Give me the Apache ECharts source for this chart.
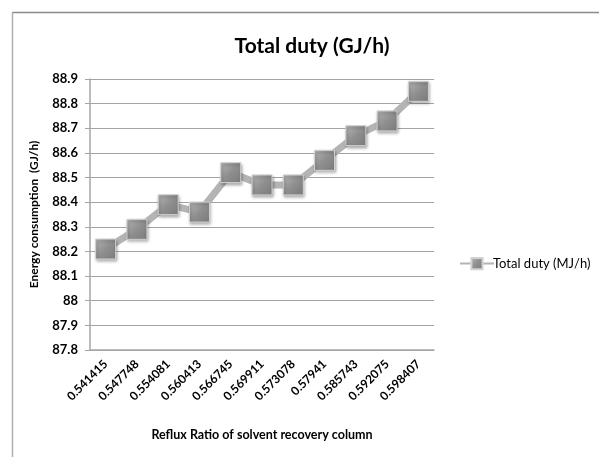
<!DOCTYPE html>
<html>
<head>
<meta charset="utf-8">
<script src="https://cdn.jsdelivr.net/npm/echarts@6/dist/echarts.min.js"></script>
<style>
  html, body { margin: 0; padding: 0; background: #fff; }
  #chart { width: 599px; height: 457px; }
</style>
</head>
<body>
<div id="chart"></div>
<script>
// Reflux ratio of the solvent recovery column (category labels)
const refluxRatios = ['0.541415', '0.547748', '0.554081', '0.560413', '0.566745',
  '0.569911', '0.573078', '0.57941', '0.585743', '0.592075', '0.598407'];
// Total duty at each reflux ratio
const totalDuty = [88.21, 88.29, 88.39, 88.36, 88.52, 88.47, 88.47, 88.57, 88.67, 88.73, 88.85];
const seriesName = 'Total duty (MJ/h)';
const yMin = 87.8, yMax = 88.9, yStep = 0.1;

const font = 'Lato, "Open Sans", sans-serif';
const chart = echarts.init(document.getElementById('chart'), null, { renderer: 'canvas' });

const markerFill = new echarts.graphic.LinearGradient(0, 0, 1, 1, [
  { offset: 0, color: '#b8b8b8' },
  { offset: 0.5, color: '#8f8f8f' },
  { offset: 1, color: '#7a7a7a' }
]);

chart.setOption({
  animation: false,
  backgroundColor: '#fff',
  title: {
    text: 'Total duty (GJ/h)',
    left: 307, top: 31, textAlign: 'center',
    textStyle: { fontFamily: font, fontSize: 21, fontWeight: 'bold', color: '#000' }
  },
  graphic: [
    { type: 'line', shape: { x1: 12, y1: 12.5, x2: 599, y2: 12.5 }, style: { stroke: '#8a8a8a', lineWidth: 1.5 } },
    { type: 'line', shape: { x1: 12.5, y1: 12, x2: 12.5, y2: 457 }, style: { stroke: '#b0b0b0', lineWidth: 1.5 } }
  ],
  legend: {
    left: 454, top: 252,
    itemWidth: 34, itemHeight: 14, itemGap: 4,
    textStyle: { fontFamily: font, fontSize: 13, color: '#000', padding: [0, 0, 0, -6] },
    data: [seriesName]
  },
  grid: { left: 90, right: 165, top: 79, bottom: 107 },
  xAxis: {
    type: 'category',
    data: refluxRatios,
    boundaryGap: true,
    name: 'Reflux Ratio of solvent recovery column',
    nameLocation: 'middle', nameGap: 78,
    nameTextStyle: { fontFamily: font, fontSize: 12.5, fontWeight: 'bold', color: '#000' },
    axisLine: { lineStyle: { color: '#a6a6a6', width: 1.5 } },
    axisTick: { show: false },
    axisLabel: {
      rotate: 45, interval: 0, margin: 12,
      fontFamily: font, fontSize: 12, fontWeight: 'bold', color: '#000'
    }
  },
  yAxis: {
    type: 'value',
    min: yMin, max: yMax, interval: yStep,
    name: 'Energy consumption  (GJ/h)',
    nameLocation: 'middle', nameGap: 50,
    nameTextStyle: { fontFamily: font, fontSize: 12, fontWeight: 'bold', color: '#000' },
    axisLine: { show: true, lineStyle: { color: '#a6a6a6', width: 1.5 } },
    axisTick: { show: true, length: 5, lineStyle: { color: '#a6a6a6' } },
    axisLabel: {
      margin: 12, fontFamily: font, fontSize: 13, fontWeight: 'bold', color: '#000',
      formatter: v => String(Math.round(v * 10) / 10)
    },
    splitLine: { lineStyle: { color: '#a3a3a3', width: 1.2 } }
  },
  series: [{
    name: seriesName,
    type: 'line',
    data: totalDuty,
    symbol: 'rect',
    symbolSize: 20,
    lineStyle: { color: '#b4b4b4', width: 7 },
    itemStyle: {
      color: markerFill,
      borderColor: '#d2d2d2', borderWidth: 1,
      shadowColor: 'rgba(0,0,0,0.35)', shadowBlur: 3, shadowOffsetX: 1, shadowOffsetY: 2
    },
    emphasis: { disabled: true }
  }]
});
</script>
</body>
</html>
